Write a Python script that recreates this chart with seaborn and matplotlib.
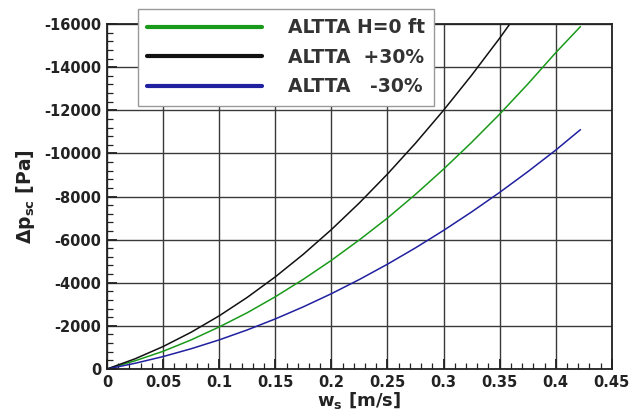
import matplotlib
matplotlib.use("Agg")
import matplotlib.pyplot as plt
import seaborn as sns
import pandas as pd
from matplotlib.ticker import MultipleLocator, FuncFormatter

sns.set_theme(style="white")
plt.rcParams['font.family'] = ['DejaVu Sans']
plt.rcParams['axes.unicode_minus'] = False
plt.rcParams['mathtext.fontset'] = 'dejavusans'

# data
ws = [0, 0.025, 0.05, 0.075, 0.1, 0.125, 0.15, 0.175, 0.2, 0.225, 0.25,
      0.275, 0.3, 0.325, 0.35, 0.375, 0.4, 0.422]
dp_base = [0, -380, -820, -1350, -1950, -2610, -3350, -4160, -5040, -5990, -7000,
           -8100, -9270, -10510, -11820, -13210, -14670, -15880]
ws_plus = [0, 0.025, 0.05, 0.075, 0.1, 0.125, 0.15, 0.175, 0.2, 0.225, 0.25,
           0.275, 0.3, 0.325, 0.35, 0.375]
dp_plus = [0, -472, -1041, -1705, -2465, -3321, -4273, -5321, -6465, -7705, -9041,
           -10472, -12000, -13624, -15343, -17159]
dp_minus = [0, -264, -576, -939, -1350, -1812, -2322, -2883, -3492, -4152, -4860,
            -5619, -6426, -7284, -8190, -9147, -10152, -11100]
labels = ["ALTTA H=0 ft", "ALTTA  +30%", "ALTTA   -30%"]
colors = ["#1a9a1a", "#111111", "#2020a0"]

df = pd.concat([
    pd.DataFrame({"w": ws, "dp": dp_base, "s": labels[0]}),
    pd.DataFrame({"w": ws_plus, "dp": dp_plus, "s": labels[1]}),
    pd.DataFrame({"w": ws, "dp": dp_minus, "s": labels[2]}),
])

fig = plt.figure(figsize=(6.42, 4.12), dpi=100)
ax = fig.add_axes([0.1667, 0.1044, 0.7863, 0.8373])

sns.lineplot(data=df, x="w", y="dp", hue="s", hue_order=labels,
             palette=dict(zip(labels, colors)), estimator=None, sort=False,
             linewidth=1.1, ax=ax, legend=True)

ax.set_xlim(0, 0.45)
ax.set_ylim(0, -16000)
ax.xaxis.set_major_locator(MultipleLocator(0.05))
ax.xaxis.set_minor_locator(MultipleLocator(0.01))
ax.yaxis.set_major_locator(MultipleLocator(2000))
ax.yaxis.set_minor_locator(MultipleLocator(400))
ax.xaxis.set_major_formatter(FuncFormatter(lambda v, p: f"{v:g}"))
ax.yaxis.set_major_formatter(FuncFormatter(lambda v, p: f"{int(round(v))}"))

ax.grid(True, which="major", color="#3a3a3a", linewidth=1.0)
ax.set_axisbelow(True)
for sp in ax.spines.values():
    sp.set_color("#222222")
    sp.set_linewidth(1.3)
    sp.set_visible(True)

ax.tick_params(axis="both", which="major", direction="in", length=7, width=1.3,
               colors="#222222", labelsize=10.5, pad=4, bottom=True, left=True)
ax.tick_params(axis="both", which="minor", direction="in", length=4, width=0.9,
               colors="#222222", bottom=True, left=True)
for lab in ax.get_xticklabels() + ax.get_yticklabels():
    lab.set_fontweight("bold")

ax.set_xlabel(r"w$_\mathbf{s}$ [m/s]", fontsize=13, fontweight="bold", labelpad=0, color="#222222")
ax.set_ylabel(r"$\mathbf{\Delta}$p$_\mathbf{sc}$ [Pa]", fontsize=13.5, fontweight="bold", labelpad=5, color="#222222")

handles, _ = ax.get_legend_handles_labels()
ax.get_legend().remove()
leg = fig.legend(handles, labels, loc="upper left", bbox_to_anchor=(138/642, 1 - 9/412),
                 frameon=True, fancybox=False, framealpha=1, edgecolor="#999999",
                 fontsize=13.5, handlelength=6.1, handletextpad=1.4, labelspacing=0.56,
                 borderpad=0.5, borderaxespad=0)
leg.get_frame().set_linewidth(1.0)
for ln in leg.get_lines():
    ln.set_linewidth(3)
for t in leg.get_texts():
    t.set_fontweight("bold")
    t.set_color("#333333")

fig.savefig("out.png", dpi=100)
